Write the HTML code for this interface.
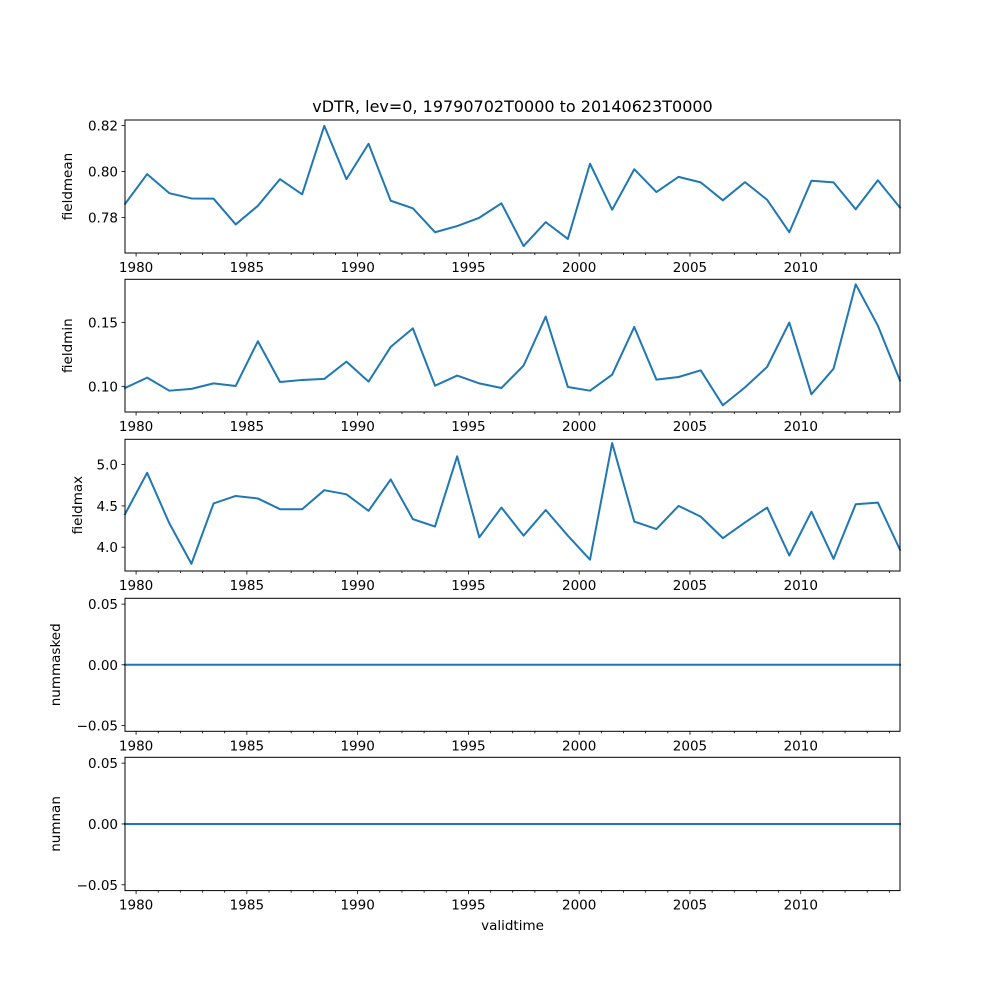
<!DOCTYPE html>
<html><head><meta charset="utf-8"><style>
body{margin:0;background:#fff;}
svg{display:block;font-family:"DejaVu Sans","Liberation Sans",sans-serif;}
</style></head><body>
<svg id="fig" width="1000" height="1000" viewBox="0 0 1000 1000" xmlns="http://www.w3.org/2000/svg">
<rect width="1000" height="1000" fill="#fff"/>
<text x="512.5" y="112" font-size="16" text-anchor="middle">vDTR, lev=0, 19790702T0000 to 20140623T0000</text>
<text x="512.5" y="930" font-size="13.5" text-anchor="middle">validtime</text>
</svg>
<script>
const startYear = 1979;
const fieldmean = [0.7859,0.7989,0.7906,0.7883,0.7882,0.7770,0.7851,0.7967,0.7901,0.8199,0.7967,0.8121,0.7873,0.7840,0.7736,0.7763,0.7799,0.7862,0.7676,0.7780,0.7707,0.8034,0.7834,0.8010,0.7911,0.7977,0.7953,0.7875,0.7954,0.7877,0.7736,0.7960,0.7953,0.7836,0.7962,0.7843];
const fieldmin = [0.0987,0.1068,0.0966,0.0980,0.1023,0.1003,0.1352,0.1034,0.1050,0.1058,0.1193,0.1037,0.1308,0.1453,0.1005,0.1084,0.1023,0.0987,0.1162,0.1545,0.0995,0.0966,0.1091,0.1464,0.1052,0.1073,0.1125,0.0852,0.0992,0.1152,0.1498,0.0938,0.1138,0.1797,0.1474,0.1045];
const fieldmax = [4.40,4.90,4.29,3.80,4.53,4.62,4.59,4.46,4.46,4.69,4.64,4.44,4.82,4.34,4.25,5.10,4.12,4.48,4.14,4.45,4.14,3.85,5.26,4.31,4.22,4.50,4.37,4.11,4.30,4.48,3.90,4.43,3.86,4.52,4.54,3.97];
const nummasked = new Array(36).fill(0);
const numnan = new Array(36).fill(0);
const xTickYears = [1980,1985,1990,1995,2000,2005,2010];
const xTickLabels = ["1980","1985","1990","1995","2000","2005","2010"];
const meanTicks = [0.78,0.80,0.82];
const meanTickLabels = ["0.78","0.80","0.82"];
const minTicks = [0.10,0.15];
const minTickLabels = ["0.10","0.15"];
const maxTicks = [4.0,4.5,5.0];
const maxTickLabels = ["4.0","4.5","5.0"];
const zeroTicks = [-0.05,0,0.05];
const zeroTickLabels = ["\u22120.05","0.00","0.05"];

const NS="http://www.w3.org/2000/svg";
const svg=document.getElementById('fig');
function el(tag,attrs,parent){const e=document.createElementNS(NS,tag);for(const k in attrs)e.setAttribute(k,attrs[k]);(parent||svg).appendChild(e);return e;}
const X0=125,X1=900,T0=1979.5,T1=2014.48;
function xs(t){return X0+(t-T0)/(T1-T0)*(X1-X0);}
function tOf(i){return T0+i*(T1-T0)/35;}

const panels=[
 {name:'fieldmean',data:fieldmean,top:120,bot:253,lo:0.76457,hi:0.82243,ticks:meanTicks,labels:meanTickLabels,lx:72},
 {name:'fieldmin',data:fieldmin,top:279.3,bot:412,lo:0.07995,hi:0.18363,ticks:minTicks,labels:minTickLabels,lx:72},
 {name:'fieldmax',data:fieldmax,top:439.3,bot:571,lo:3.7126,hi:5.3053,ticks:maxTicks,labels:maxTickLabels,lx:82},
 {name:'nummasked',data:nummasked,top:598.3,bot:731.3,lo:-0.0548,hi:0.0548,ticks:zeroTicks,labels:zeroTickLabels,lx:60},
 {name:'numnan',data:numnan,top:757.3,bot:890.6,lo:-0.0548,hi:0.0548,ticks:zeroTicks,labels:zeroTickLabels,lx:60}
];
panels.forEach(p=>{
 const g=el('g',{});
 
 
 const ys=v=>p.bot-(v-p.lo)/(p.hi-p.lo)*(p.bot-p.top);
 // line
 let d='';
 p.data.forEach((v,i)=>{d+=(i?'L':'M')+xs(tOf(i)).toFixed(2)+','+ys(v).toFixed(2);});
 const path=el('path',{d:d,fill:'none',stroke:'#1f77b4','stroke-width':2,'stroke-linejoin':'round','stroke-linecap':'square'},g);
 
 
 // frame
 const fr=el('rect',{x:X0,y:p.top,width:X1-X0,height:p.bot-p.top,fill:'none',stroke:'#000','stroke-width':1},g);
 
 
 // minor x ticks
 for(let y=1980;y<=2014;y++){
  if(y%5===0)continue;
  const x=xs(y);
  el('line',{x1:x,x2:x,y1:p.bot,y2:p.bot+2,stroke:'#000','stroke-width':0.8},g);
 }
 // major x ticks
 xTickYears.forEach((y,k)=>{
  const x=xs(y);
  el('line',{x1:x,x2:x,y1:p.bot,y2:p.bot+3.5,stroke:'#000','stroke-width':0.8},g);
  const t=el('text',{x:x,y:p.bot+19,'font-size':13.5,'text-anchor':'middle'},g);
  
  
  t.textContent=xTickLabels[k];
 });
 // y ticks
 p.ticks.forEach((v,k)=>{
  const y=ys(v);
  el('line',{x1:X0-3.5,x2:X0,y1:y,y2:y,stroke:'#000','stroke-width':0.8},g);
  const t=el('text',{x:X0-7,y:y+5,'font-size':13.5,'text-anchor':'end'},g);
  
  
  t.textContent=p.labels[k];
 });
 const cy=(p.top+p.bot)/2;
 const yl=el('text',{x:p.lx,y:cy,'font-size':13.5,'text-anchor':'middle',transform:'rotate(-90 '+p.lx+' '+cy+')'},g);
 
 
 yl.textContent=p.name;
});
</script>
</body></html>
